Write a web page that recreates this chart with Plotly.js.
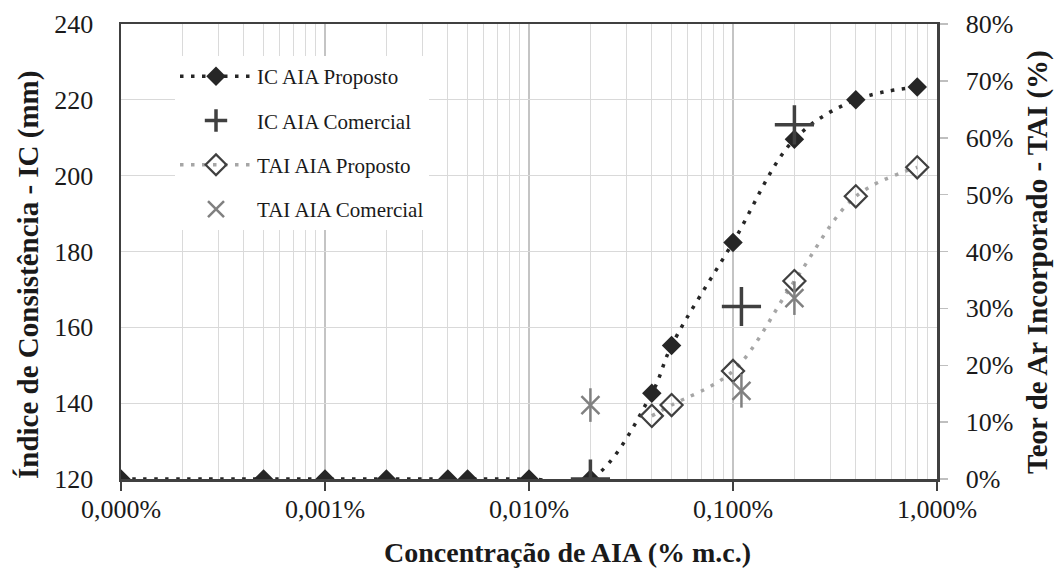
<!DOCTYPE html>
<html>
<head>
<meta charset="utf-8">
<script src="https://cdn.plot.ly/plotly-3.0.1.min.js"></script>
<style>html,body{margin:0;padding:0;background:#fff;}#chart{width:1054px;height:568px;}</style>
</head>
<body>
<div id="chart"></div>
<script>
// Concentration of AIA (% m.c.), log axis
const icPropX = [0.0001, 0.0005, 0.001, 0.002, 0.004, 0.005, 0.01, 0.02, 0.04, 0.05, 0.1, 0.2, 0.4, 0.8];
const icPropY = [120, 120, 120, 120, 120, 120, 120, 120, 142.6, 155.2, 182.4, 209.6, 220.0, 223.4];
const icComX = [0.02, 0.11, 0.2];
const icComY = [120, 165.5, 213.4];
const taiPropX = [0.04, 0.05, 0.1, 0.2, 0.4, 0.8];
const taiPropY = [0.111, 0.130, 0.190, 0.348, 0.497, 0.548];
const taiComX = [0.02, 0.11, 0.2];
const taiComY = [0.130, 0.155, 0.318];
const xTickVals = [0.0001, 0.001, 0.01, 0.1, 1];
const xTickText = ['0,000%', '0,001%', '0,010%', '0,100%', '1,000%'];
const seriesNames = ['IC AIA Proposto', 'IC AIA Comercial', 'TAI AIA Proposto', 'TAI AIA Comercial'];
const titles = {
  x: 'Concentração de AIA (% m.c.)',
  y: 'Índice de Consistência - IC (mm)',
  y2: 'Teor de Ar Incorporado - TAI (%)'
};

const minorVals = [];
for (let d = -4; d < 0; d++) for (let k = 2; k <= 9; k++) minorVals.push(k * Math.pow(10, d));

const FONT = 'Liberation Serif';
const TXT = '#1a1a1a';

const traces = [
  {x: icPropX, y: icPropY, name: seriesNames[0], type: 'scatter', mode: 'lines+markers',
   line: {color: '#262626', width: 3.5, dash: '3.5px,7.5px', shape: 'spline', smoothing: 1.0},
   marker: {symbol: 'diamond', size: 15, color: '#262626'}, legendgroup: 'a', xaxis: 'x', yaxis: 'y'},
  {x: icComX, y: icComY, name: seriesNames[1], type: 'scatter', mode: 'markers',
   marker: {symbol: 'cross-thin-open', size: 28, color: '#404040', line: {color: '#404040', width: 3.5}}, legendgroup: 'b', xaxis: 'x', yaxis: 'y'},
  {x: taiPropX, y: taiPropY, name: seriesNames[2], type: 'scatter', mode: 'lines+markers',
   line: {color: '#a6a6a6', width: 3.5, dash: '3.5px,7.5px', shape: 'spline', smoothing: 1.0},
   marker: {symbol: 'diamond-open', size: 17, color: '#404040', line: {color: '#404040', width: 2.2}}, legendgroup: 'c', xaxis: 'x', yaxis: 'y2'},
  {x: taiComX, y: taiComY, name: seriesNames[3], type: 'scatter', mode: 'markers',
   marker: {symbol: 'x-thin-open', size: 18, color: '#808080', line: {color: '#808080', width: 2.5}}, legendgroup: 'd', xaxis: 'x', yaxis: 'y2'},
  {x: taiComX, y: taiComY, name: seriesNames[3], type: 'scatter', mode: 'markers', showlegend: false,
   marker: {symbol: 'line-ns-open', size: 24, color: '#808080', line: {color: '#808080', width: 2.5}}, legendgroup: 'd', xaxis: 'x', yaxis: 'y2', hoverinfo: 'skip'}
];

const W = 1054, H = 568, ML = 121, MR = 117, MT = 24, MB = 89;
const PW = W - ML - MR, PH = H - MT - MB;
const px = v => (v - ML) / PW;        // pixel -> paper x
const py = v => (H - MB - v) / PH;    // pixel -> paper y

const layout = {
  width: W, height: H,
  paper_bgcolor: '#ffffff', plot_bgcolor: '#ffffff',
  margin: {l: ML, r: MR, t: MT, b: MB},
  font: {family: FONT, size: 26, color: TXT},
  showlegend: true,
  legend: {x: px(175), y: py(56), xanchor: 'left', yanchor: 'top', bgcolor: '#ffffff', borderwidth: 0,
           font: {family: FONT, size: 21, color: TXT}, traceorder: 'grouped', tracegroupgap: 14, itemwidth: 72},
  shapes: [{type: 'rect', xref: 'paper', yref: 'paper', x0: px(153), x1: px(478), y0: py(227), y1: py(40),
            fillcolor: '#ffffff', line: {width: 0}, layer: 'between'}],
  xaxis: {type: 'log', range: [-4, 0], tickmode: 'array', tickvals: xTickVals, ticktext: xTickText,
          showgrid: true, gridcolor: '#c4c4c4', gridwidth: 1.3,
          minor: {tickmode: 'array', tickvals: minorVals, showgrid: true, gridcolor: '#dadada', gridwidth: 1.3, ticks: ''},
          showline: true, linecolor: '#404040', linewidth: 2.5, mirror: true,
          ticks: 'outside', ticklen: 9, tickwidth: 2, tickcolor: '#404040', ticklabelstandoff: -4,
          tickfont: {family: FONT, size: 26, color: TXT}, zeroline: false},
  yaxis: {range: [120, 240], dtick: 20, showgrid: true, gridcolor: '#d9d9d9', gridwidth: 1.3,
          showline: true, linecolor: '#404040', linewidth: 2.5, ticks: '', ticklabelstandoff: 20, zeroline: false,
          tickfont: {family: FONT, size: 26, color: TXT}},
  yaxis2: {overlaying: 'y', side: 'right', range: [0, 0.8], dtick: 0.1, tickformat: '.0%', showgrid: false, zeroline: false,
           showline: true, linecolor: '#404040', linewidth: 2.5, ticks: 'outside', ticklen: 8, tickwidth: 1.5, tickcolor: '#bfbfbf',
           ticklabelstandoff: 13, tickfont: {family: FONT, size: 26, color: TXT}},
  annotations: [
    {text: '<b>' + titles.x + '</b>', xref: 'paper', yref: 'paper', x: px(567), y: 0, yshift: -(552 - (H - MB)),
     xanchor: 'center', yanchor: 'middle', showarrow: false, font: {family: FONT, size: 28, color: TXT}},
    {text: '<b>' + titles.y + '</b>', xref: 'paper', yref: 'paper', x: 0, xshift: 28 - ML, y: py(275),
     xanchor: 'center', yanchor: 'middle', textangle: -90, showarrow: false, font: {family: FONT, size: 29, color: TXT}},
    {text: '<b>' + titles.y2 + '</b>', xref: 'paper', yref: 'paper', x: 1, xshift: 1037 - (W - MR), y: py(262),
     xanchor: 'center', yanchor: 'middle', textangle: -90, showarrow: false, font: {family: FONT, size: 29, color: TXT}}
  ]
};

Plotly.newPlot('chart', traces, layout, {displayModeBar: false, staticPlot: true});
</script>
</body>
</html>
